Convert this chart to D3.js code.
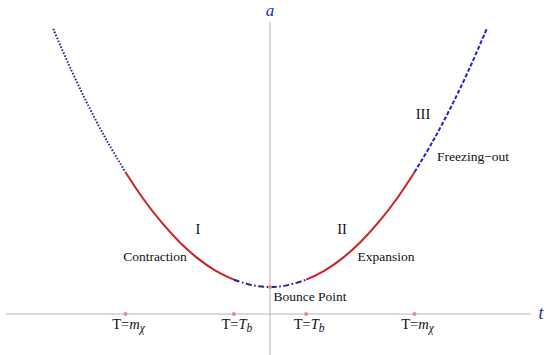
<!DOCTYPE html>
<html><head><meta charset="utf-8">
<script src="https://cdn.jsdelivr.net/npm/d3@7"></script>
<style>
html,body{margin:0;padding:0;background:#fff;}
</style></head>
<body><svg id="c" width="550" height="355"></svg>
<script>
// scale factor a(t)
const tVals = [-6, -5.5, -5, -4.5, -4, -3.5, -3, -2.5, -2, -1.5, -1, -0.5, 0, 0.5, 1, 1.5, 2, 2.5, 3, 3.5, 4, 4.5, 5, 5.5, 6];
const aVals = [10.56, 9.03, 7.64, 6.38, 5.25, 4.25, 3.39, 2.66, 2.06, 1.6, 1.27, 1.07, 1.0, 1.07, 1.27, 1.6, 2.06, 2.66, 3.39, 4.25, 5.25, 6.38, 7.64, 9.03, 10.56];
// phases of the curve
const phaseNames = ["freezeL", "contraction", "bounce", "expansion", "freezeR"];
const phaseStart = [-6, -4, -1, 1, 4];
const phaseEnd = [-4, -1, 1, 4, 6];
// ticks on the t axis
const tickPos = [-4, -1, 1, 4];
const tickMain = ["T=", "T=", "T=", "T="];
const tickSym = ["m", "T", "T", "m"];
const tickSub = ["χ", "b", "b", "χ"];

const FONT = "'Liberation Serif', 'Times New Roman', Times, serif";
const svg = d3.select("#c").attr("font-family", FONT);
const x = d3.scaleLinear().domain([-4, 4]).range([125.5, 414.5]);
const y = d3.scaleLinear().domain([0, 1]).range([314, 287]);

// axes
svg.append("line").attr("x1", 6).attr("x2", 531).attr("y1", y(0)).attr("y2", y(0))
  .attr("stroke", "#b4b4b4").attr("stroke-width", 1);
svg.append("line").attr("x1", x(0)).attr("x2", x(0)).attr("y1", 22).attr("y2", 355)
  .attr("stroke", "#b4b4b4").attr("stroke-width", 1);
svg.append("text").attr("x", x(0)).attr("y", 16).attr("text-anchor", "middle").attr("font-family", FONT)
  .attr("font-style", "italic").attr("font-size", 17).attr("fill", "#2a2aa8").text("a");
svg.append("text").attr("x", 541).attr("y", 319).attr("text-anchor", "middle").attr("font-family", FONT)
  .attr("font-style", "italic").attr("font-size", 18).attr("fill", "#2a2aa8").text("t");

const pts = tVals.map((t, i) => ({t, a: aVals[i]}));
const line = d3.line().x(d => x(d.t)).y(d => y(d.a)).curve(d3.curveCatmullRom);
const styles = {
  freezeL: {stroke: "#2b2b8c", dash: "1.6,1.6", w: 2},
  contraction: {stroke: "#cc2222", dash: null, w: 2},
  bounce: {stroke: "#2b2b8c", dash: "6,2.5,1.6,2.5", w: 2},
  expansion: {stroke: "#cc2222", dash: null, w: 2},
  freezeR: {stroke: "#2424c8", dash: "4,2", w: 2}
};
phaseNames.forEach((p, i) => {
  const seg = pts.filter(d => d.t >= phaseStart[i] - 1e-9 && d.t <= phaseEnd[i] + 1e-9);
  const s = styles[p];
  svg.append("path").attr("d", line(seg)).attr("fill", "none")
    .attr("stroke", s.stroke).attr("stroke-width", s.w)
    .attr("stroke-dasharray", s.dash);
});

// tick dots
tickPos.forEach(t => {
  svg.append("circle").attr("cx", x(t)).attr("cy", y(0)).attr("r", 2).attr("fill", "#e58a8a");
});
svg.append("circle").attr("cx", x(0)).attr("cy", y(aVals[tVals.indexOf(0)])).attr("r", 2).attr("fill", "#e58a8a");

// tick labels
tickPos.forEach((t, i) => {
  const tx = svg.append("text").attr("x", x(t) + 3).attr("y", 329).attr("text-anchor", "middle")
    .attr("font-family", FONT).attr("font-size", 14.5).attr("fill", "#111");
  tx.append("tspan").text(tickMain[i]);
  tx.append("tspan").attr("font-style", "italic").text(tickSym[i]);
  tx.append("tspan").attr("font-style", "italic").attr("font-size", 11.5).attr("dy", 3).text(tickSub[i]);
});

// annotations
const ann = [
  {s: "I", x: 198, y: 234, fs: 14.5},
  {s: "II", x: 342, y: 234, fs: 14.5},
  {s: "III", x: 423, y: 119, fs: 14.5},
  {s: "Contraction", x: 155, y: 261, fs: 13.5},
  {s: "Expansion", x: 386, y: 261, fs: 13.5},
  {s: "Freezing\u2212out", x: 473, y: 161, fs: 13.5},
  {s: "Bounce Point", x: 310, y: 301, fs: 13.5}
];
ann.forEach(d => {
  svg.append("text").attr("x", d.x).attr("y", d.y).attr("text-anchor", "middle").attr("font-family", FONT)
    .attr("font-size", d.fs).attr("fill", "#111").text(d.s);
});
</script></body></html>
